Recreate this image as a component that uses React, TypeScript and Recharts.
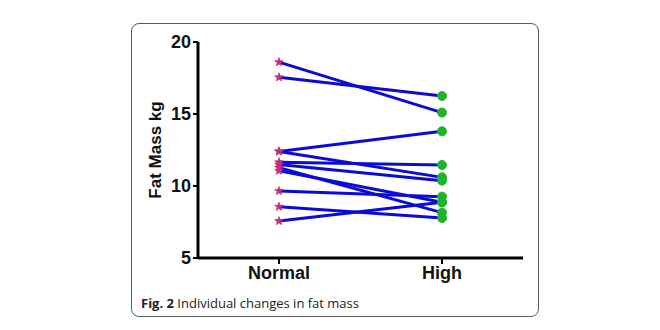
import { LineChart, Line, XAxis, YAxis, Label } from 'recharts';

const groups = ['Normal', 'High'];
const normalFat = [18.6, 17.55, 12.4, 12.4, 11.65, 11.5, 11.27, 11.06, 9.65, 8.56, 7.57];
const highFat = [15.1, 16.25, 13.8, 10.6, 11.46, 10.37, 8.15, 8.87, 9.26, 7.78, 8.87];
const yTicks = [5, 10, 15, 20];

const chartData = groups.map((g, i) => {
    const row: any = { group: g };
    const vals = i === 0 ? normalFat : highFat;
    vals.forEach((v, k) => { row['s' + k] = v; });
    return row;
});

const lineColor = '#0b0bd6';

// star at the Normal end, green dot at the High end
const renderDot = (props: any) => {
    const { cx, cy, index, key } = props;
    if (cx == null || cy == null) return <g key={key} />;
    if (index === 0) {
        const pts: string[] = [];
        for (let j = 0; j < 10; j++) {
            const r = j % 2 === 0 ? 4.5 : 1.8;
            const a = -Math.PI / 2 + (j * Math.PI) / 5;
            pts.push(`${cx + r * Math.cos(a)},${cy + r * Math.sin(a)}`);
        }
        return <polygon key={key} points={pts.join(' ')} fill="#c0307a" stroke="#c0307a" strokeWidth={0.8} />;
    }
    return <circle key={key} cx={cx} cy={cy} r={4.5} fill="#1fb52a" stroke="#1fb52a" />;
};

const App = () => {
    return (
        <div style={{ position: 'absolute', left: 0, top: 0, width: 660, height: 330, background: '#fff', fontFamily: '"Liberation Sans", Arial, sans-serif' }}>
            <div style={{
                position: 'absolute', left: 131, top: 23, width: 408, height: 294,
                border: '1px solid #5a5a5a', borderRadius: 8, boxSizing: 'border-box'
            }} />
            <div style={{ position: 'absolute', left: 0, top: 0 }}>
                <LineChart
                    width={660}
                    height={330}
                    data={chartData}
                    margin={{ top: 42, right: 137, left: 138, bottom: 42 }}
                >
                    <XAxis
                        dataKey="group"
                        padding={{ left: 81, right: 81 }}
                        axisLine={{ stroke: '#000', strokeWidth: 3 }}
                        tickLine={{ stroke: '#000', strokeWidth: 2 }}
                        tickSize={6}
                        tick={{ fill: '#111', fontSize: 18, fontWeight: 'bold' }}
                        height={30}
                    />
                    <YAxis
                        domain={[5, 20]}
                        ticks={yTicks}
                        width={60}
                        axisLine={{ stroke: '#000', strokeWidth: 3 }}
                        tickLine={{ stroke: '#000', strokeWidth: 2 }}
                        tickSize={5}
                        tick={{ fill: '#111', fontSize: 18, fontWeight: 'bold' }}
                    >
                        <Label value="Fat Mass kg" angle={-90} position="insideLeft" offset={17}
                            style={{ fill: '#111', fontSize: 17, fontWeight: 'bold', textAnchor: 'middle' }} />
                    </YAxis>
                    {normalFat.map((_, k) => (
                        <Line
                            key={k}
                            dataKey={'s' + k}
                            stroke={lineColor}
                            strokeWidth={3}
                            dot={renderDot}
                            activeDot={false}
                            isAnimationActive={false}
                        />
                    ))}
                </LineChart>
            </div>
            <div style={{ position: 'absolute', left: 141, top: 294, fontSize: 13, color: '#222', fontFamily: '"Open Sans", sans-serif', whiteSpace: 'nowrap' }}>
                <b>Fig. 2</b> Individual changes in fat mass
            </div>
        </div>
    );
};

export default App;
